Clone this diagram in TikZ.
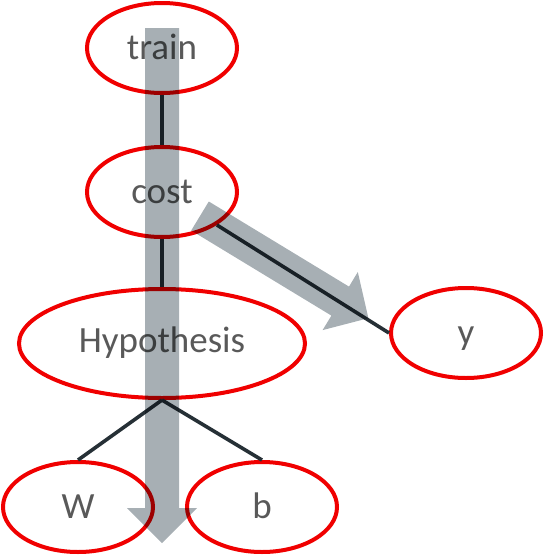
\documentclass[tikz,border=0pt]{standalone}
\usepackage{fontspec}
\setmainfont{Carlito}
\usetikzlibrary{shapes.geometric}
\definecolor{ellred}{RGB}{240,0,0}
\definecolor{txtgray}{RGB}{89,89,89}
\definecolor{linedark}{RGB}{38,48,54}
\definecolor{arrowgray}{RGB}{167,175,180}
\tikzset{
  ell/.style={ellipse, draw=ellred, line width=4pt, inner sep=0pt,
    minimum width=150pt, minimum height=90pt,
    font=\fontsize{37pt}{40pt}\selectfont, text=txtgray,
    text height=22pt, text depth=0pt},
  link/.style={draw=linedark, line width=3.6pt},
  bigarrow/.style={fill=arrowgray, draw=none}
}
\begin{document}
\begin{tikzpicture}[x=1pt,y=-1pt]
\useasboundingbox (0,0) rectangle (545,557);
\node[ell] (train) at (162,48) {train};
\node[ell] (cost) at (162,192) {cost};
\node[ell, minimum width=286pt, minimum height=109pt, text height=17pt] (hyp) at (162,343.5) {Hypothesis};
\node[ell] (y) at (466,333) {y};
\node[ell] (W) at (78,507) {W};
\node[ell] (b) at (262,507) {b};
\draw[link] (train.south) -- (cost.north);
\draw[link] (cost.south) -- (hyp.north);
\draw[link] (cost.-31) -- (y.west);
\draw[link] (hyp.south) -- (W.north);
\draw[link] (hyp.south) -- (b.north);
\begin{scope}[blend mode=multiply]
\fill[bigarrow] (145,28) -- (179,28) -- (179,508) -- (197,508) -- (162,543)
  -- (127,508) -- (145,508) -- cycle;
\fill[bigarrow] (191.2,230.5) -- (208.8,201.5) -- (349,286.6) -- (357.8,272.0)
  -- (368.4,318.2) -- (322.6,330.1) -- (331.4,315.6) -- cycle;
\end{scope}
\end{tikzpicture}
\end{document}
